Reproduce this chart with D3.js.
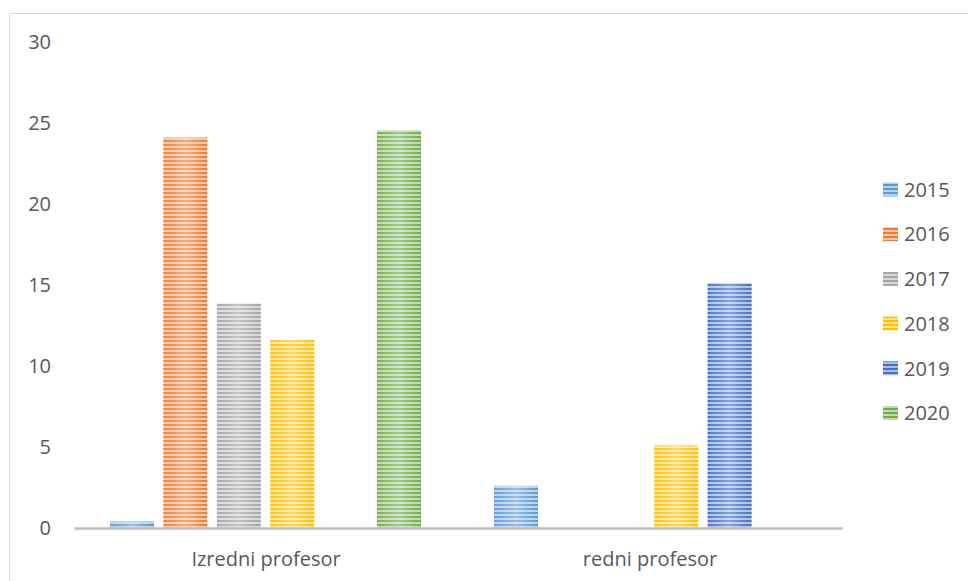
<!DOCTYPE html>
<html>
<head>
<meta charset="utf-8">
<script src="https://cdn.jsdelivr.net/npm/d3@7"></script>
<style>
  html, body { margin: 0; padding: 0; background: #fff; }
  svg { display: block; }
  text { font-family: "Open Sans", "Noto Sans", sans-serif; fill: #595959; }
</style>
</head>
<body>
<svg id="chart" width="968" height="581"></svg>
<script>
const categories = ["Izredni profesor", "redni profesor"];
const years = ["2015", "2016", "2017", "2018", "2019", "2020"];
const values2015 = [0.4, 2.6];
const values2016 = [24.1, 0];
const values2017 = [13.85, 0];
const values2018 = [11.6, 5.1];
const values2019 = [0, 15.1];
const values2020 = [24.55, 0];
const yTicks = [0, 5, 10, 15, 20, 25, 30];
const colors = ["#5B9BD5", "#ED7D31", "#A5A5A5", "#FFC000", "#4472C4", "#70AD47"];

const seriesValues = [values2015, values2016, values2017, values2018, values2019, values2020];

const svg = d3.select("#chart");
const W = 968, H = 581;

// chart frame
svg.append("rect").attr("x", 9.5).attr("y", 13.5).attr("width", W + 10).attr("height", H + 10)
  .attr("fill", "#fff").attr("stroke", "#D9D9D9").attr("stroke-width", 1);

const defs = svg.append("defs");
colors.forEach((c, i) => {
  const light = d3.interpolateRgb(c, "#ffffff")(0.55);
  const p = defs.append("pattern").attr("id", "pat" + i)
    .attr("patternUnits", "userSpaceOnUse").attr("width", 8).attr("height", 4);
  p.append("rect").attr("width", 8).attr("height", 4).attr("fill", light);
  p.append("rect").attr("width", 8).attr("height", 2).attr("fill", c);
});
const g = defs.append("linearGradient").attr("id", "sheen").attr("x1", "0").attr("x2", "1").attr("y1", "0").attr("y2", "0");
g.append("stop").attr("offset", "0").attr("stop-color", "#fff").attr("stop-opacity", 0.05);
g.append("stop").attr("offset", "0.5").attr("stop-color", "#fff").attr("stop-opacity", 0.35);
g.append("stop").attr("offset", "1").attr("stop-color", "#fff").attr("stop-opacity", 0.0);

const plot = { left: 74, right: 842, top: 42, bottom: 528 };

const x0 = d3.scaleBand().domain(categories).range([plot.left, plot.right]).padding(0);
const x1 = d3.scaleBand().domain(years).range([36, x0.bandwidth() - 37]).paddingInner(0.176).paddingOuter(0);
const y = d3.scaleLinear().domain([0, 30]).range([plot.bottom, plot.top]);

// y tick labels
const yAxis = d3.axisLeft(y).tickValues(yTicks).tickSize(0).tickPadding(0);
const ya = svg.append("g").attr("transform", "translate(51,0)").call(yAxis);
ya.select(".domain").remove();
ya.selectAll("text").style("font-size", "20px").attr("fill", "#595959")
  .style("font-family", "'Open Sans', sans-serif");

// bars
const data = [];
categories.forEach((cat, ci) => {
  years.forEach((yr, si) => {
    data.push({ cat, yr, si, v: seriesValues[si][ci] });
  });
});
const bars = svg.append("g").selectAll("g").data(data.filter(d => d.v > 0)).join("g");
bars.append("rect")
  .attr("x", d => x0(d.cat) + x1(d.yr))
  .attr("y", d => y(d.v))
  .attr("width", x1.bandwidth())
  .attr("height", d => y(0) - y(d.v))
  .attr("fill", d => `url(#pat${d.si})`);
bars.append("rect")
  .attr("x", d => x0(d.cat) + x1(d.yr))
  .attr("y", d => y(d.v))
  .attr("width", x1.bandwidth())
  .attr("height", d => y(0) - y(d.v))
  .attr("fill", "url(#sheen)");

// x axis
const xAxis = d3.axisBottom(x0).tickSize(0).tickPadding(24);
const xa = svg.append("g").attr("transform", `translate(0,${plot.bottom})`).call(xAxis);
xa.select(".domain").attr("stroke", "#BFBFBF").attr("stroke-width", 2.5);
xa.selectAll("text").style("font-size", "20px").attr("fill", "#595959")
  .style("font-family", "'Open Sans', sans-serif");

// legend
const legend = svg.append("g");
const ly = d3.scalePoint().domain(years).range([189.5, 413]);
years.forEach((yr, i) => {
  legend.append("rect").attr("x", 883).attr("y", ly(yr) - 7).attr("width", 15).attr("height", 14)
    .attr("fill", `url(#pat${i})`);
  legend.append("text").attr("x", 904).attr("y", ly(yr)).attr("dy", "0.36em")
    .style("font-size", "20px").text(yr);
});
</script>
</body>
</html>
